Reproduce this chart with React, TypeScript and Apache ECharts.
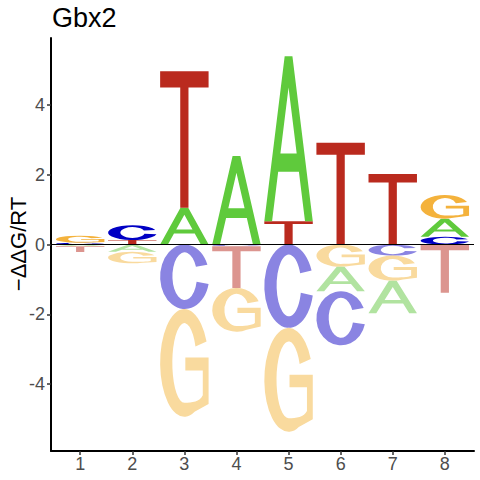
import React, { useEffect, useRef } from "react";
import * as echarts from "echarts";

// ---- data ----
const positions = [1, 2, 3, 4, 5, 6, 7, 8];
const letters = ["A", "C", "G", "T"];
const valuesA = [-0.05, -0.21, 1.05, 2.54, 4.73, -0.7, -0.93, 0.52];
const valuesC = [0.05, 0.42, -1.85, -0.05, -2.39, -1.55, -0.32, 0.22];
const valuesG = [0.2, -0.33, -3.09, -1.25, -2.98, -0.64, -0.72, 0.68];
const valuesT = [-0.165, 0.13, 3.92, -1.2, 0.67, 2.92, 2.02, -1.38];
const yTicks = [-4, -2, 0, 2, 4];
const xTicks = [1, 2, 3, 4, 5, 6, 7, 8];
const titleText = "Gbx2";
const yTitle = "\u2212\u0394\u0394G/RT";

// ---- styles ----
const POS_COLORS = ["#5FCA3C", "#0000C4", "#F4B23C", "#BA2A1E"];
const NEG_COLORS = ["#B1E3A0", "#8A84E2", "#F9DA9E", "#DC958F"];
const LETTER_WIDTH = 0.93;
const FONT = "'Liberation Sans', Arial, Helvetica, sans-serif";

// glyph outlines in a 0..100 box (y down); stretched to fill each letter's box
const GLYPHS: Record<string, string> = {
  A: "M0,100 L42,0 L58,0 L100,100 L84,100 L71.4,70 L28.6,70 L16,100 Z M33.2,59 L66.8,59 L50,19 Z",
  C: "M96.6,32 A50,50 0 1 0 99,62 L74.6,58.6 A25,37 0 1 1 73.3,35.4 Z",
  G: "M95.8,30 A50,50 0 1 0 71.1,95.3 L100,88 L100,45 L52,45 L52,57 L88,57 L88,80 C82,86 66,87 50,87 A25,37 0 1 1 72.9,34.7 Z",
  T: "M0,0 L100,0 L100,12 L58.5,12 L58.5,100 L41.5,100 L41.5,12 L0,12 Z",
};

function buildItems() {
  const cols = [valuesA, valuesC, valuesG, valuesT];
  const items: number[][] = [];
  positions.forEach((p, i) => {
    const vals = cols.map((c, k) => ({ k, v: c[i] }));
    const pos = vals.filter((d) => d.v > 0).sort((a, b) => a.v - b.v);
    const neg = vals.filter((d) => d.v < 0).sort((a, b) => b.v - a.v);
    let acc = 0;
    pos.forEach((d) => {
      items.push([p, acc, acc + d.v, d.k, 1]);
      acc += d.v;
    });
    acc = 0;
    neg.forEach((d) => {
      items.push([p, acc + d.v, acc, d.k, 0]);
      acc += d.v;
    });
  });
  return items;
}

export default function App() {
  const ref = useRef<HTMLDivElement>(null);
  useEffect(() => {
    if (!ref.current) return;
    const chart = echarts.init(ref.current, undefined, { renderer: "svg" });
    const items = buildItems();
    const xMin = 0.44;
    const xMax = 8.56;
    chart.setOption({
      animation: false,
      backgroundColor: "#ffffff",
      grid: { left: 51, right: 6, top: 38, bottom: 29, containLabel: false, outerBoundsMode: "none" },
      graphic: [
        {
          type: "text",
          x: 52,
          y: 18,
          style: {
            text: titleText,
            font: `27px ${FONT}`,
            fill: "#000000",
            verticalAlign: "middle",
            align: "left",
          },
        },
        {
          type: "text",
          x: 18,
          y: 244,
          rotation: Math.PI / 2,
          style: {
            text: yTitle,
            font: `22px ${FONT}`,
            fill: "#000000",
            verticalAlign: "middle",
            align: "center",
          },
        },
      ],
      xAxis: {
        type: "value",
        min: xMin,
        max: xMax,
        axisLine: { show: true, onZero: false, lineStyle: { color: "#000", width: 2 } },
        axisTick: { show: true, customValues: xTicks, length: 4, lineStyle: { color: "#333", width: 1.5 } },
        axisLabel: { customValues: xTicks, fontSize: 18, color: "#4D4D4D", margin: 4, fontFamily: FONT },
        splitLine: { show: false },
      },
      yAxis: {
        type: "value",
        min: -5.92,
        max: 5.92,
        axisLine: { show: true, onZero: false, lineStyle: { color: "#000", width: 2 } },
        axisTick: { show: true, customValues: yTicks, length: 4, lineStyle: { color: "#333", width: 1.5 } },
        axisLabel: { customValues: yTicks, fontSize: 18, color: "#4D4D4D", margin: 6, fontFamily: FONT },
        splitLine: { show: false },
      },
      series: [
        {
          type: "custom",
          z: 2,
          silent: true,
          encode: { x: 0, y: [1, 2] },
          data: items,
          renderItem: (params: any, api: any) => {
            const x = api.value(0);
            const y0 = api.value(1);
            const y1 = api.value(2);
            const k = api.value(3);
            const sign = api.value(4);
            const tl = api.coord([x - LETTER_WIDTH / 2, y1]);
            const br = api.coord([x + LETTER_WIDTH / 2, y0]);
            return {
              type: "path",
              shape: {
                pathData: GLYPHS[letters[k]],
                x: tl[0],
                y: tl[1],
                width: br[0] - tl[0],
                height: Math.max(br[1] - tl[1], 0.01),
                layout: "cover",
              },
              style: { fill: sign ? POS_COLORS[k] : NEG_COLORS[k] },
            };
          },
        },
        {
          type: "line",
          z: 5,
          silent: true,
          symbol: "none",
          data: [
            [xMin, 0],
            [xMax, 0],
          ],
          lineStyle: { color: "#000", width: 1 },
        },
      ],
    });
    return () => chart.dispose();
  }, []);
  return (
    <div
      ref={ref}
      style={{ position: "fixed", left: 0, top: 0, width: 480, height: 480, background: "#fff" }}
    />
  );
}
